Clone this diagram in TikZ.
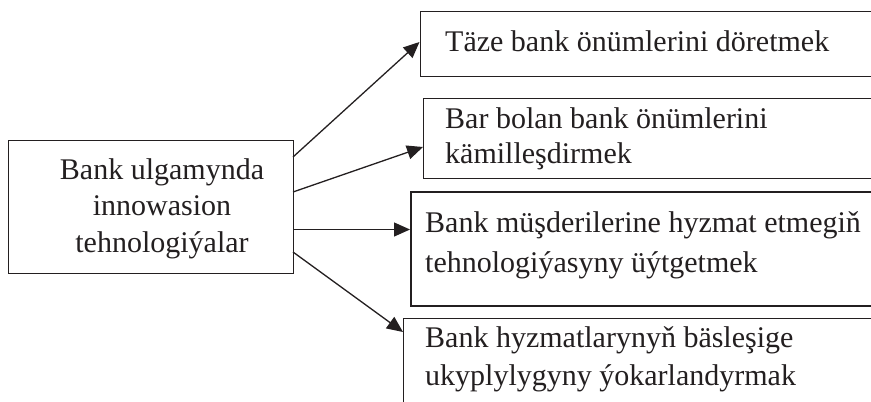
\documentclass[tikz,border=0pt]{standalone}
\usepackage{fontspec}
\setmainfont{Liberation Serif}
\usetikzlibrary{arrows.meta}
\definecolor{ink}{HTML}{231F20}
\begin{document}
\begin{tikzpicture}[x=1pt,y=-1pt,
  box/.style={draw=ink,line width=1.3pt,inner sep=0pt,anchor=north west},
  txt/.style={inner sep=0pt,text=ink,font=\fontsize{30}{37}\selectfont},
  arr/.style={draw=ink,line width=1.3pt,-{Triangle[length=16pt,width=14pt]}}]
\useasboundingbox (0,0) rectangle (871,402);
% boxes
\node[box,minimum width=285pt,minimum height=133pt] (L) at (8,139.5) {};
\node[box,minimum width=470pt,minimum height=65pt] (B1) at (419.5,10.5) {};
\node[box,minimum width=470pt,minimum height=80pt] (B2) at (423,98) {};
\node[box,line width=2.3pt,minimum width=470pt,minimum height=114pt] (B3) at (410,191) {};
\node[box,minimum width=470pt,minimum height=120pt] (B4) at (403,318) {};
% texts
\node[txt,anchor=base,align=center] (Lt1) at (162,179) {Bank ulgamynda};
\node[txt,anchor=base,align=center] (Lt2) at (162,215) {innowasion};
\node[txt,anchor=base,align=center] (Lt3) at (162,252) {tehnologiýalar};
\node[txt,anchor=base west] (T1) at (445,51) {Täze bank önümlerini döretmek};
\node[txt,anchor=base west] (T2a) at (445,128) {Bar bolan bank önümlerini};
\node[txt,anchor=base west] (T2b) at (445,163) {kämilleşdirmek};
\node[txt,anchor=base west] (T3a) at (425,232) {Bank müşderilerine hyzmat etmegiň};
\node[txt,anchor=base west] (T3b) at (425,272) {tehnologiýasyny üýtgetmek};
\node[txt,anchor=base west] (T4a) at (425,347) {Bank hyzmatlarynyň bäsleşige};
\node[txt,anchor=base west] (T4b) at (425,385) {ukyplylygyny ýokarlandyrmak};
% arrows
\coordinate (s1) at (293,157);
\coordinate (s2) at (293,192);
\coordinate (s3) at (293,229.5);
\coordinate (s4) at (293,252);
\draw[arr] (s1) -- (B1.west |- 0,42);
\draw[arr] (s2) -- (B2.west |- 0,147);
\draw[arr] (s3) -- (B3.west |- s3);
\draw[arr] (s4) -- (B4.west |- 0,332);
\end{tikzpicture}
\end{document}
